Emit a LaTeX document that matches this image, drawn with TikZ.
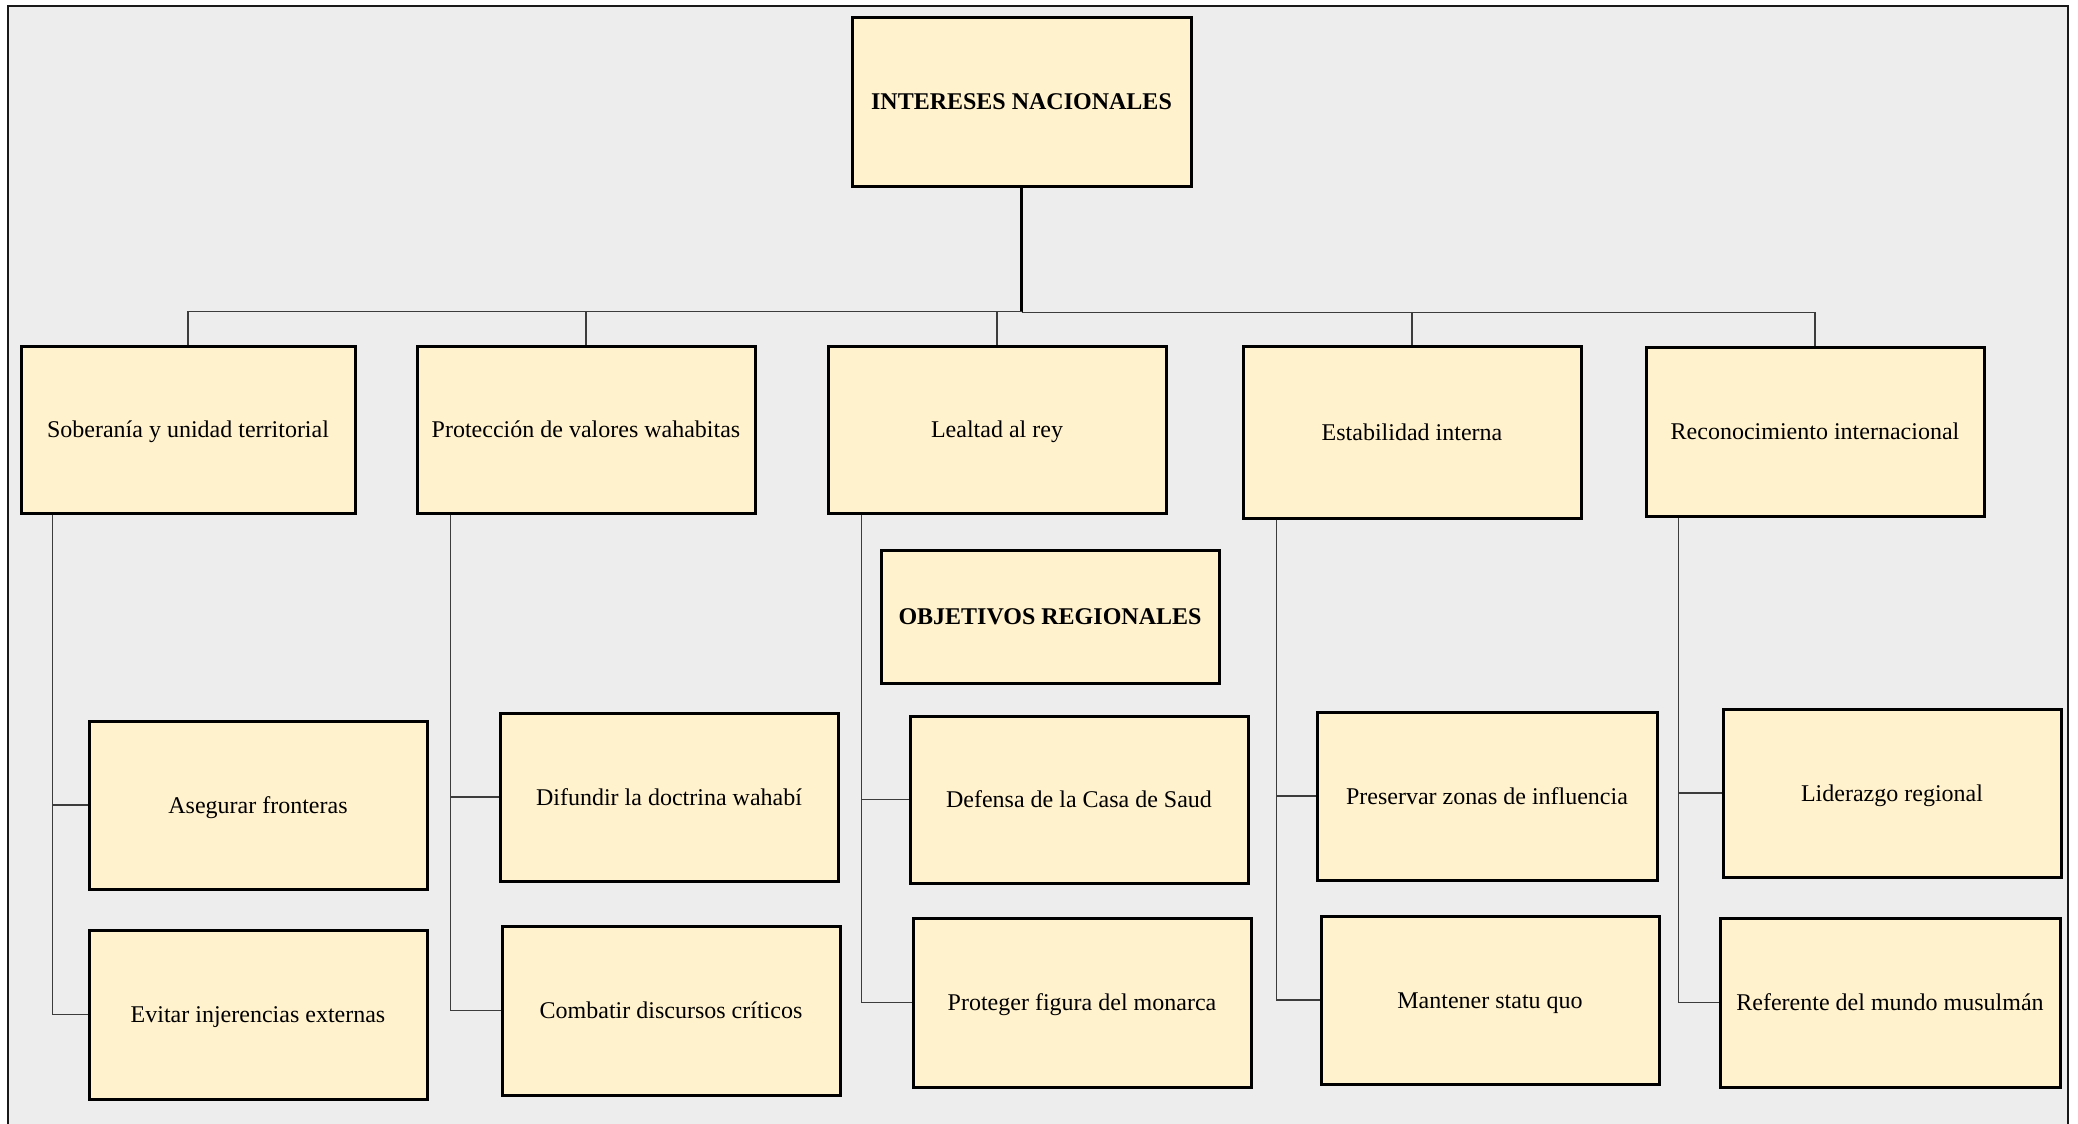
\documentclass[tikz,border=0pt]{standalone}
\usepackage{fontspec}
\setmainfont{Liberation Serif}
\usetikzlibrary{fit,calc}
\definecolor{panel}{HTML}{EDEDED}
\definecolor{cardfill}{HTML}{FFF2CC}
\definecolor{wirecol}{HTML}{3C3C3C}
% a card between two corners, with its caption centred on it
\newcommand{\cardbox}[5]{%
  \node[card, fit={#2 #3}] (#1) {};
  \node[#4] (#1-t) at (#1.center) {#5};}
\begin{document}
\begin{tikzpicture}[x=0.5pt,y=-0.5pt,
  card/.style={draw=black, fill=cardfill, line width=1.5pt, inner sep=0pt},
  plain/.style={inner sep=0pt, text height=8.2pt, text depth=2.6pt, yshift=-1.3pt,
    font=\fontsize{12}{14}\selectfont},
  heavy/.style={plain, font=\fontsize{12}{14}\selectfont\bfseries},
  wire/.style={draw=wirecol, line width=0.65pt},
  trunk/.style={draw=black, line width=1.1pt}]
% page and panel
\useasboundingbox (0,0) rectangle (2078,1124);
\fill[white] (0,0) rectangle (2078,1124);
\fill[panel] (8,6) rectangle (2068,1124);
\draw[line width=1pt, black!90] (8,1124) -- (8,6) -- (2068,6) -- (2068,1124);

% top level
\cardbox{top}{(852,17)}{(1191,186)}{heavy}{INTERESES NACIONALES}

% national interests
\cardbox{sob}{(21,346)}{(355,513)}{plain}{Soberanía y unidad territorial}
\cardbox{pro}{(417,346)}{(755,513)}{plain}{Protección de valores wahabitas}
\cardbox{lea}{(828,346)}{(1166,513)}{plain}{Lealtad al rey}
\cardbox{est}{(1243,346)}{(1581,518)}{plain}{Estabilidad interna}
\cardbox{rec}{(1646,347)}{(1984,516)}{plain}{Reconocimiento internacional}

% regional objectives
\cardbox{obj}{(881,550)}{(1219,683)}{heavy}{OBJETIVOS REGIONALES}

\cardbox{ase}{(89,721)}{(427,889)}{plain}{Asegurar fronteras}
\cardbox{evi}{(89,930)}{(427,1099)}{plain}{Evitar injerencias externas}
\cardbox{dif}{(500,713)}{(838,881)}{plain}{Difundir la doctrina wahabí}
\cardbox{com}{(502,926)}{(840,1095)}{plain}{Combatir discursos críticos}
\cardbox{def}{(910,716)}{(1248,883)}{plain}{Defensa de la Casa de Saud}
\cardbox{prt}{(913,918)}{(1251,1087)}{plain}{Proteger figura del monarca}
\cardbox{pre}{(1317,712)}{(1657,880)}{plain}{Preservar zonas de influencia}
\cardbox{man}{(1321,916)}{(1659,1084)}{plain}{Mantener statu quo}
\cardbox{lid}{(1723,709)}{(2061,877)}{plain}{Liderazgo regional}
\cardbox{ref}{(1720,918)}{(2060,1087)}{plain}{Referente del mundo musulmán}

% trunk and bus
\coordinate (busL) at ($(top.south)+(0,124)$);
\coordinate (busR) at ($(top.south)+(0,125)$);
\draw[trunk] (top.south) -- (busL);
\draw[wire] (busL) -| (sob.north);
\draw[wire] (busL) -| (pro.north);
\draw[wire] (busL) -| (lea.north);
\draw[wire] (busR) -| (est.north);
\draw[wire] (busR) -| (rec.north);

% branches to the children
\coordinate (sobs) at ($(sob.south west)+(33,0)$);
\coordinate (pros) at ($(pro.south west)+(35,0)$);
\coordinate (leas) at ($(lea.south west)+(35,0)$);
\coordinate (ests) at ($(est.south west)+(35,0)$);
\coordinate (recs) at ($(rec.south west)+(34,0)$);
\draw[wire] (sobs) |- (ase.west);
\draw[wire] (sobs) |- (evi.west);
\draw[wire] (pros) |- (dif.west);
\draw[wire] (pros) |- (com.west);
\draw[wire] (leas) |- (def.west);
\draw[wire] (leas) |- (prt.west);
\draw[wire] (ests) |- (pre.west);
\draw[wire] (ests) |- (man.west);
\draw[wire] (recs) |- (lid.west);
\draw[wire] (recs) |- (ref.west);
\end{tikzpicture}
\end{document}
